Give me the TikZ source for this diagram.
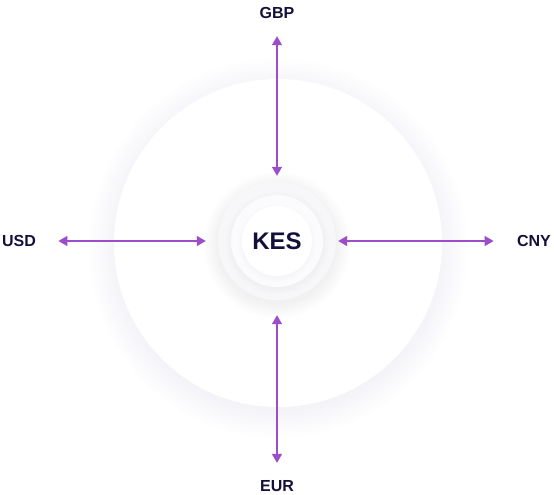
\documentclass[tikz,border=0pt]{standalone}
\usepackage{fontspec}
\setmainfont{Liberation Sans}
\usetikzlibrary{arrows.meta}
\definecolor{flowpurple}{HTML}{9B4DCA}
\definecolor{inkblue}{HTML}{14103A}
\definecolor{haze}{HTML}{C4C1DC}
\definecolor{mist}{HTML}{F7F7FA}
\definecolor{pale}{HTML}{FBFBFD}

\begin{document}
\begin{tikzpicture}[x=1pt,y=-1pt,
  ring/.style={circle,fill=white,draw=none,inner sep=0pt},
  glow/.style={fill=haze,opacity=0.006},
  currency/.style={font=\bfseries\fontsize{16}{19}\selectfont,text=inkblue},
  flow/.style={draw=flowpurple,line width=1.4pt,
    {Triangle[length=9pt,width=10pt]}-{Triangle[length=9pt,width=10pt]}}]
\useasboundingbox (0,0) rectangle (554,495);

% soft halos
\foreach \k in {1,...,24} \fill[glow] (278,248) circle ({162+1.2*\k});
\node[ring,minimum size=328pt] (halo) at (278,243) {};
\foreach \k in {1,...,14} \fill[glow] (277,245) circle ({58+1.1*\k});
\node[ring,fill=mist,minimum size=118pt] (outer) at (277,241) {};
\foreach \k in {1,...,7} \fill[glow] (277,243) circle ({45+\k});
\node[ring,fill=pale,minimum size=92pt] (middle) at (277,241) {};
\foreach \k in {1,...,5} \fill[glow] (277,243) circle ({34+\k});
\node[ring,minimum size=70pt,font=\bfseries\fontsize{24}{28}\selectfont,text=inkblue] (kes) at (277,241) {KES};

\node[currency] (gbp) at (277,13) {GBP};
\node[currency] (usd) at (19,241) {USD};
\node[currency] (cny) at (534,241) {CNY};
\node[currency] (eur) at (277,486) {EUR};

\path[flow,shorten <=14pt,shorten >=6pt] (gbp) -- (outer);
\path[flow,shorten <=19pt,shorten >=12pt] (usd) -- (outer);
\path[flow,shorten <=2pt,shorten >=20pt] (outer) -- (cny);
\path[flow,shorten <=15pt,shorten >=14pt] (outer) -- (eur);
\end{tikzpicture}
\end{document}
